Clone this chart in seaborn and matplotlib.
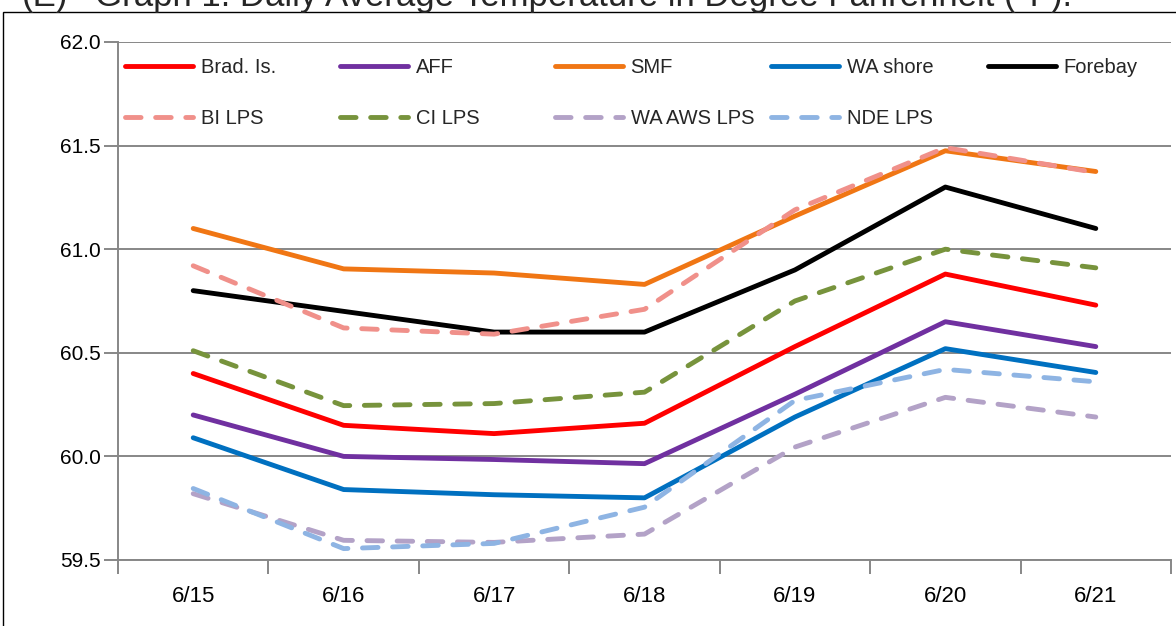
import pandas as pd
import matplotlib.pyplot as plt
import seaborn as sns
from matplotlib.patches import Rectangle

# --- DATA ---
dates = ["6/15", "6/16", "6/17", "6/18", "6/19", "6/20", "6/21"]
brad = [60.40, 60.15, 60.11, 60.16, 60.53, 60.88, 60.73]
aff = [60.20, 60.00, 59.985, 59.965, 60.30, 60.65, 60.53]
smf = [61.10, 60.905, 60.885, 60.83, 61.16, 61.475, 61.375]
wa_shore = [60.09, 59.84, 59.815, 59.80, 60.19, 60.52, 60.405]
forebay = [60.80, 60.70, 60.60, 60.60, 60.90, 61.30, 61.10]
bi_lps = [60.92, 60.62, 60.59, 60.71, 61.19, 61.49, 61.37]
ci_lps = [60.51, 60.245, 60.255, 60.31, 60.75, 61.00, 60.91]
wa_aws_lps = [59.82, 59.595, 59.585, 59.625, 60.045, 60.285, 60.19]
nde_lps = [59.845, 59.555, 59.58, 59.755, 60.27, 60.42, 60.36]

series = {
    "Brad. Is.": brad,
    "AFF": aff,
    "SMF": smf,
    "WA shore": wa_shore,
    "Forebay": forebay,
    "BI LPS": bi_lps,
    "CI LPS": ci_lps,
    "WA AWS LPS": wa_aws_lps,
    "NDE LPS": nde_lps,
}
colors = {
    "Brad. Is.": "#FF0000",
    "AFF": "#7030A0",
    "SMF": "#F07614",
    "WA shore": "#0070C0",
    "Forebay": "#000000",
    "BI LPS": "#F0908A",
    "CI LPS": "#77933C",
    "WA AWS LPS": "#B3A2C7",
    "NDE LPS": "#8EB4E3",
}
dashed = ["BI LPS", "CI LPS", "WA AWS LPS", "NDE LPS"]

rows = []
for name, vals in series.items():
    for d, v in zip(dates, vals):
        rows.append({"date": d, "temp": v, "site": name})
df = pd.DataFrame(rows)

sns.set_theme(style="white")
plt.rcParams["font.family"] = ["Liberation Sans", "DejaVu Sans"]

fig = plt.figure(figsize=(11.76, 6.26), dpi=100)
ax = fig.add_axes([118 / 1176, 1 - 560 / 626, 1053 / 1176, 518 / 626])

dash_map = {n: ((3.2, 3.0) if n in dashed else "") for n in series}
sns.lineplot(data=df, x="date", y="temp", hue="site", style="site",
             hue_order=list(series), style_order=list(series),
             palette=colors, dashes=dash_map, linewidth=3.5,
             dash_capstyle="round", solid_capstyle="round",
             legend=False, ax=ax)

ax.set_xlim(-0.5, len(dates) - 0.5)
ax.set_ylim(59.5, 62.0)
ax.set_yticks([59.5, 60.0, 60.5, 61.0, 61.5, 62.0])
ax.set_yticklabels([f"{t:.1f}" for t in ax.get_yticks()])
ax.set_xlabel("")
ax.set_ylabel("")

grid_c = "#878787"
ax.yaxis.grid(True, color=grid_c, linewidth=1.4, zorder=0)
ax.xaxis.grid(False)
ax.set_axisbelow(True)
for s in ["top", "right"]:
    ax.spines[s].set_visible(False)
for s in ["left", "bottom"]:
    ax.spines[s].set_color(grid_c)
    ax.spines[s].set_linewidth(1.4)

ax.tick_params(axis="y", which="major", left=True, length=10, width=1.4,
               color=grid_c, labelsize=15, pad=2.5, labelcolor="black")
ax.set_xticks(range(len(dates)))
ax.set_xticks([i - 0.5 for i in range(len(dates) + 1)], minor=True)
ax.tick_params(axis="x", which="major", length=0, labelsize=16, pad=19,
               labelcolor="black")
ax.tick_params(axis="x", which="minor", bottom=True, length=10, width=1.4,
               color=grid_c)

# legend: equal width columns like the original
handles = dict(zip(series, ax.lines))
names = list(series)
col_x = [125, 340, 555, 771, 988]
for i, x in enumerate(col_x):
    items = [names[i]] + ([names[i + 5]] if i + 5 < len(names) else [])
    leg = fig.legend([handles[n] for n in items], items, loc="upper left",
                     bbox_to_anchor=(x / 1176, 1 - 58 / 626), frameon=False,
                     fontsize=14.5, handlelength=3.4, handletextpad=0.35,
                     borderpad=0, borderaxespad=0, labelspacing=1.6)

# outer chart border and cut-off caption
fig.add_artist(Rectangle((3 / 1176, -0.1), 2, 1 - 12 / 626 + 0.1,
                         transform=fig.transFigure, fill=False,
                         edgecolor="black", linewidth=1))
fig.text(22 / 1176, 1 - 6 / 626, "(E)", fontsize=25, va="baseline")
fig.text(95 / 1176, 1 - 6 / 626,
         "Graph 1: Daily Average Temperature in Degree Fahrenheit (°F).",
         fontsize=25, va="baseline")

fig.savefig("out.png", dpi=100)
